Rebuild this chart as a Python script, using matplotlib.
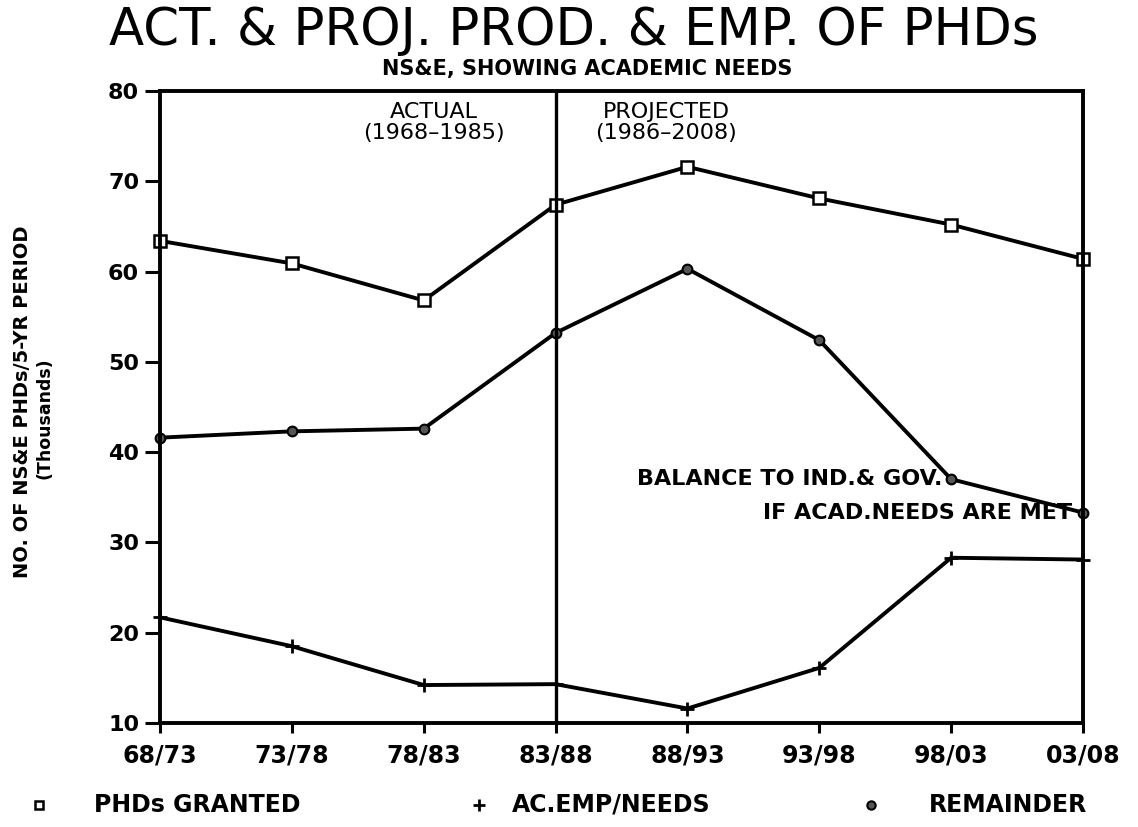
import matplotlib
matplotlib.use("Agg")
import matplotlib.pyplot as plt

# periods and series (thousands of PhDs per 5-yr period)
periods = ["68/73", "73/78", "78/83", "83/88", "88/93", "93/98", "98/03", "03/08"]
phds_granted = [63.4, 60.9, 56.8, 67.4, 71.6, 68.1, 65.2, 61.4]
ac_emp_needs = [21.7, 18.5, 14.2, 14.3, 11.6, 16.1, 28.3, 28.1]
remainder = [41.6, 42.3, 42.6, 53.2, 60.3, 52.4, 37.0, 33.3]
y_ticks = [10, 20, 30, 40, 50, 60, 70, 80]

plt.rcParams['font.family'] = ['DejaVu Sans']

fig = plt.figure(figsize=(11.38, 8.27), dpi=100)
ax = fig.add_axes([0.1406, 0.1258, 0.8111, 0.7642])

x = list(range(len(periods)))
lw = 2.8
ax.plot(x, phds_granted, '-', color='black', lw=lw, marker='s', markersize=8,
        markerfacecolor='white', markeredgecolor='black', markeredgewidth=1.8, clip_on=False)
ax.plot(x, ac_emp_needs, '-', color='black', lw=lw, marker='+', markersize=10,
        markeredgewidth=2, clip_on=False)
ax.plot(x, remainder, '-', color='black', lw=lw, marker='o', markersize=7,
        markerfacecolor='#555555', markeredgecolor='black', markeredgewidth=1.5, clip_on=False)

# actual / projected divider
ax.axvline(3, color='black', lw=2.4)
ax.text(2.08, 78.8, "ACTUAL\n(1968\u20131985)", ha='center', va='top', fontsize=16,
        linespacing=1.05)
ax.text(3.84, 78.8, "PROJECTED\n(1986\u20132008)", ha='center', va='top', fontsize=16,
        linespacing=1.05)

ax.text(5.93, 37.0, "BALANCE TO IND.& GOV.", ha='right', va='center', fontsize=16,
        fontweight='bold')
ax.text(6.92, 33.3, "IF ACAD.NEEDS ARE MET", ha='right', va='center', fontsize=16,
        fontweight='bold')

ax.set_xlim(0, len(periods) - 1)
ax.set_ylim(10, 80)
ax.set_xticks(x)
ax.set_xticklabels(periods, fontsize=17, fontweight='bold')
ax.set_yticks(y_ticks)
ax.set_yticklabels([str(v) for v in y_ticks], fontsize=16, fontweight='bold')
ax.tick_params(axis='x', direction='out', length=7, width=2.2, pad=8)
ax.tick_params(axis='y', direction='out', length=11, width=2.2, pad=4)
for s in ax.spines.values():
    s.set_linewidth(2.8)

# y axis label, two lines
fig.text(0.020, 0.514, "NO. OF NS&E PHDs/5-YR PERIOD", rotation=90, ha='center',
         va='center', fontsize=14, fontweight='bold')
fig.text(0.039, 0.494, "(Thousands)", rotation=90, ha='center', va='center',
         fontsize=12.5, fontweight='bold')

# titles
fig.text(0.504, 0.962, "ACT. & PROJ. PROD. & EMP. OF PHDs", ha='center', va='center',
         fontsize=37)
fig.text(0.516, 0.916, "NS&E, SHOWING ACADEMIC NEEDS", ha='center', va='center',
         fontsize=15, fontweight='bold')

# legend along the bottom
ly = 0.027
fig.lines.append(plt.Line2D([0.034], [ly], transform=fig.transFigure, marker='s',
                            markersize=6, markerfacecolor='white', markeredgecolor='black',
                            markeredgewidth=1.8, linestyle='none'))
fig.text(0.083, ly, "PHDs GRANTED", ha='left', va='center', fontsize=17, fontweight='bold')
fig.lines.append(plt.Line2D([0.421], [ly], transform=fig.transFigure, marker='+',
                            markersize=8, markeredgewidth=2, color='black', linestyle='none'))
fig.text(0.45, ly, "AC.EMP/NEEDS", ha='left', va='center', fontsize=17, fontweight='bold')
fig.lines.append(plt.Line2D([0.765], [ly], transform=fig.transFigure, marker='o',
                            markersize=6, markerfacecolor='#555555', markeredgecolor='black',
                            markeredgewidth=1.5, linestyle='none'))
fig.text(0.816, ly, "REMAINDER", ha='left', va='center', fontsize=17, fontweight='bold')

fig.savefig("out.png", dpi=100)
